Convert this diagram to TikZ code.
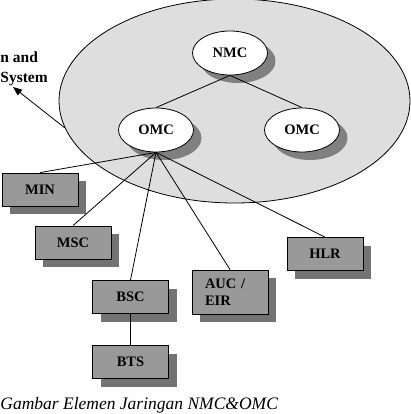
\documentclass[tikz,border=0pt]{standalone}
\usepackage{fontspec}
\setmainfont{Liberation Serif}
\usetikzlibrary{arrows.meta,shapes.geometric,shadows,positioning}

\begin{document}
\begin{tikzpicture}[x=1pt,y=-1pt,>={Triangle[length=9pt,width=7pt]},line width=0.8pt,
  elem/.style={draw,fill=black!40,minimum width=76pt,minimum height=33pt,inner sep=0pt,
    font=\fontsize{14.5}{17.5}\selectfont\bfseries,
    drop shadow={shadow xshift=8pt,shadow yshift=-8pt,fill=black!55,opacity=1}},
  ctr/.style={ellipse,draw,fill=white,minimum width=75pt,minimum height=44pt,inner sep=0pt,
    font=\fontsize{14.5}{17.5}\selectfont\bfseries,
    drop shadow={shadow xshift=8pt,shadow yshift=-8pt,fill=black!50,opacity=1}}]
\useasboundingbox (0,0) rectangle (411,414);
% management area
\node[ellipse,draw,fill=black!13,minimum width=351pt,minimum height=204pt,inner sep=0pt] (oss) at (234.5,101) {};
\node[ctr] (nmc) at (230,53) {NMC};
\node[ctr] (omcL) at (156,130) {OMC};
\node[ctr] (omcR) at (302,130) {OMC};
% network elements
\node[elem] (min) at (40,189.5) {MIN};
\node[elem] (msc) at (73,242.5) {MSC};
\node[elem] (bsc) at (130.5,297) {BSC};
\node[elem] (bts) at (130.5,362) {BTS};
\node[elem,minimum height=44pt,text width=50pt,align=left,inner xsep=3pt] (auc) at (230,292) {AUC /\\EIR};
\node[elem] (hlr) at (325,254) {HLR};
% links
\draw (nmc.south) -- (omcL.north);
\draw (nmc.south) -- (omcR.north);
\foreach \e in {min,msc,bsc,auc,hlr}
  \draw (omcL.south) -- (\e.north);
\draw (bsc.south) -- (bts.north);
% label and arrow
\node[anchor=north west,align=left,inner sep=0pt,font=\fontsize{15.5}{20}\selectfont\bfseries] (lbl) at (0,51) {n and\\System};
\coordinate (tip) at (13,87);
\draw[->] (oss.189) -- (tip);
\node[anchor=base west,inner sep=0pt,font=\fontsize{17.5}{20}\selectfont\itshape] (cap) at (0,409) {Gambar Elemen Jaringan NMC\&OMC};
\end{tikzpicture}
\end{document}
